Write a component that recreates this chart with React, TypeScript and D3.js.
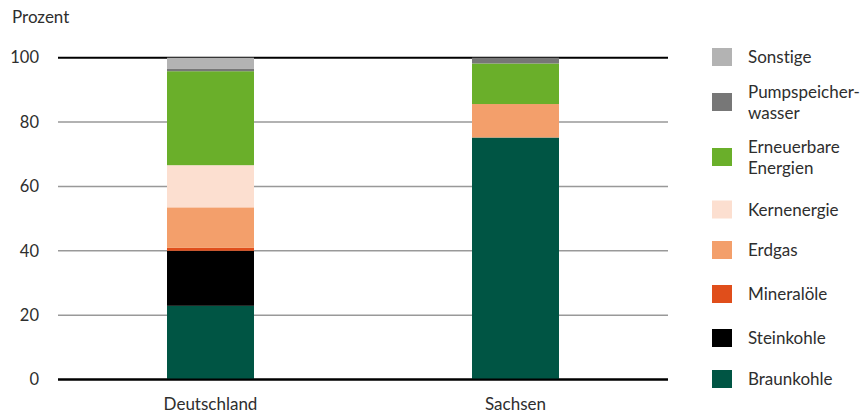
import React from "react";
import * as d3 from "d3";

// Anteile der Energieträger an der Bruttostromerzeugung (Prozent)
const regions = ["Deutschland", "Sachsen"];
const carriers = [
  "Braunkohle",
  "Steinkohle",
  "Mineralöle",
  "Erdgas",
  "Kernenergie",
  "Erneuerbare Energien",
  "Pumpspeicherwasser",
  "Sonstige",
];
const deutschlandValues = [22.9, 17.1, 0.9, 12.6, 13.1, 29.2, 0.7, 3.5];
const sachsenValues = [75.2, 0, 0, 10.4, 0, 12.6, 1.8, 0];
const yTicks = [0, 20, 40, 60, 80, 100];

const colors = [
  "#005544",
  "#000000",
  "#e04e1b",
  "#f39f6b",
  "#fcdfd0",
  "#6aaf2a",
  "#777777",
  "#b3b3b3",
];

// Legend entries (top to bottom), lines split as printed
const legendLines: string[][] = [
  ["Sonstige"],
  ["Pumpspeicher-", "wasser"],
  ["Erneuerbare", "Energien"],
  ["Kernenergie"],
  ["Erdgas"],
  ["Mineralöle"],
  ["Steinkohle"],
  ["Braunkohle"],
];
const legendCenters = [57, 102, 157, 209.5, 250, 294, 338, 379];

const W = 865;
const H = 414;
const FONT = "Lato, 'Open Sans', sans-serif";
const TEXT = "#2e2e2e";
const LABEL_SIZE = 17;

export default function App() {
  const x = d3
    .scaleBand<string>()
    .domain(regions)
    .range([58, 668])
    .paddingInner(0.7148)
    .paddingOuter(0.3574);
  const y = d3.scaleLinear().domain([0, 100]).range([379.5, 57.7]);

  const rows = regions.map((r, i) => {
    const row: Record<string, number | string> = { region: r };
    const vals = i === 0 ? deutschlandValues : sachsenValues;
    carriers.forEach((c, j) => (row[c] = vals[j]));
    return row;
  });
  const stacked = d3.stack<Record<string, number | string>>().keys(carriers)(rows as any);

  return (
    <svg
      width={W}
      height={H}
      style={{
        position: "absolute",
        left: 0,
        top: 0,
        display: "block",
        background: "#fff",
        fontVariantLigatures: "none",
      }}
      fontFamily={FONT}
    >
      <text x={12} y={23} fontSize={LABEL_SIZE} fill={TEXT}>
        Prozent
      </text>

      {/* grid lines and y labels */}
      {yTicks.map((t) => {
        const isEdge = t === 0 || t === 100;
        return (
          <g key={t}>
            <line
              x1={58}
              x2={668}
              y1={y(t)}
              y2={y(t)}
              stroke={isEdge ? "#000" : "#999"}
              strokeWidth={isEdge ? 2 : 1.5}
            />
            <text
              x={39}
              y={y(t)}
              dy="0.35em"
              textAnchor="end"
              fontSize={16.5}
              fill={TEXT}
            >
              {t}
            </text>
          </g>
        );
      })}

      {/* stacked bars */}
      {stacked.map((layer, li) =>
        layer.map((seg, si) => {
          const h = y(seg[0]) - y(seg[1]);
          if (h <= 0) return null;
          return (
            <rect
              key={`${li}-${si}`}
              x={x(regions[si])}
              width={x.bandwidth()}
              y={y(seg[1])}
              height={h}
              fill={colors[li]}
            />
          );
        })
      )}

      {/* redraw baseline above bars */}
      <line x1={58} x2={668} y1={y(0)} y2={y(0)} stroke="#000" strokeWidth={2} />

      {/* category labels */}
      {regions.map((r) => (
        <text
          key={r}
          x={(x(r) as number) + x.bandwidth() / 2}
          y={410}
          textAnchor="middle"
          fontSize={LABEL_SIZE}
          fill={TEXT}
        >
          {r}
        </text>
      ))}

      {/* legend */}
      {legendLines.map((lines, i) => {
        const ci = carriers.length - 1 - i;
        const cy = legendCenters[i];
        const textTop = cy - ((lines.length - 1) * 21) / 2;
        return (
          <g key={i}>
            <rect x={712} y={cy - 9} width={20} height={18} fill={colors[ci]} />
            {lines.map((ln, k) => (
              <text
                key={k}
                x={748}
                y={textTop + k * 21}
                dy="0.38em"
                fontSize={LABEL_SIZE}
                fill={TEXT}
              >
                {ln}
              </text>
            ))}
          </g>
        );
      })}
    </svg>
  );
}
